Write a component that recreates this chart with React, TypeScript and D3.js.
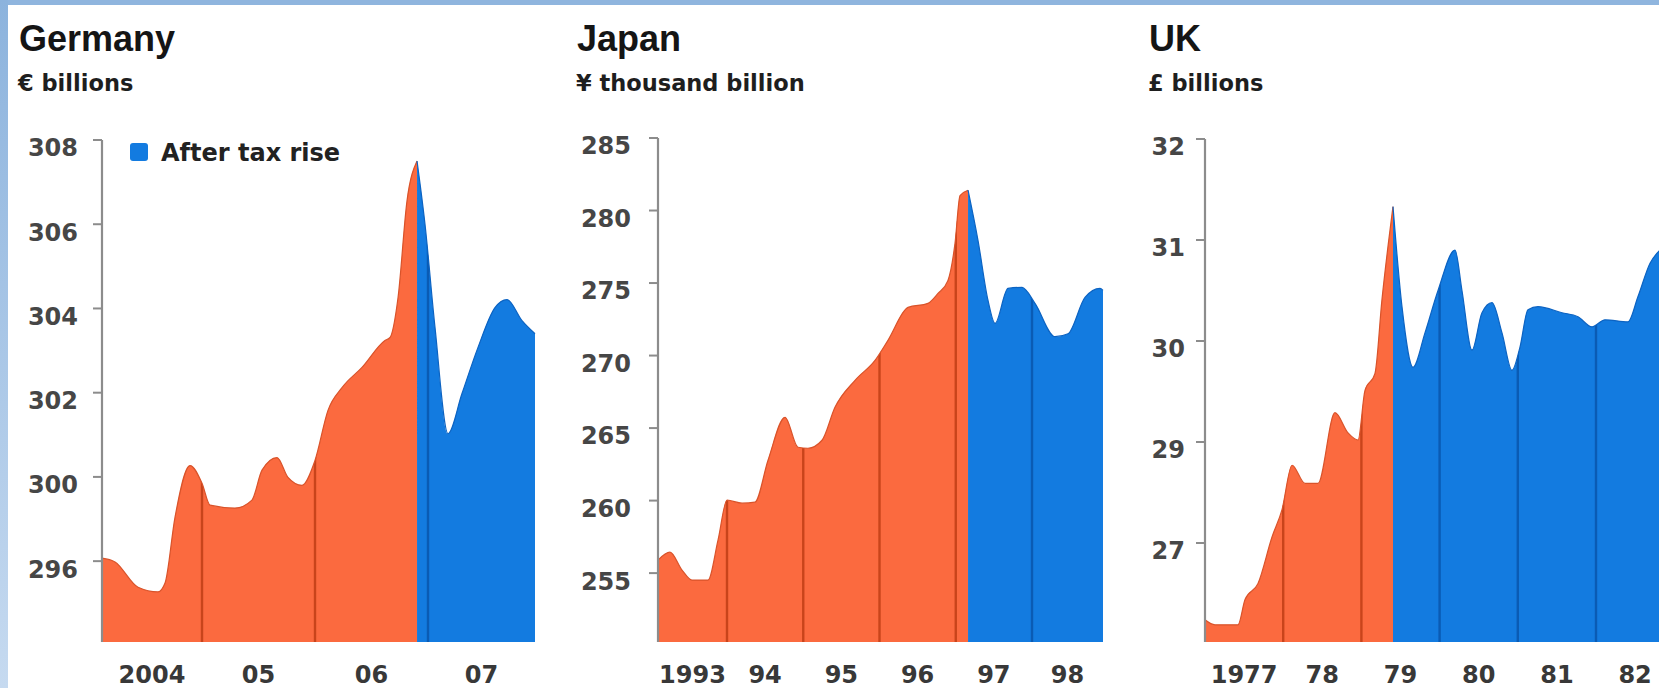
import React from "react";
import * as d3 from "d3";

type Pt = [number, number];

// ---------------- Germany (€ billions) ----------------
const GERMANY_BEFORE: Pt[] = [
  [2004.115, 298.07], [2004.23, 297.98], [2004.434, 297.38], [2004.611, 297.27], [2004.673, 297.48],
  [2004.761, 299.04], [2004.894, 300.27], [2005.0, 299.85], [2005.071, 299.33], [2005.292, 299.26],
  [2005.442, 299.45], [2005.531, 300.16], [2005.664, 300.46], [2005.761, 299.99], [2005.885, 299.8],
  [2006.0, 300.39], [2006.115, 301.58], [2006.239, 302.12], [2006.416, 302.6], [2006.619, 303.24],
  [2006.664, 303.31], [2006.735, 304.26], [2006.814, 306.55], [2006.903, 307.5],
];
const GERMANY_AFTER: Pt[] = [
  [2006.903, 307.5], [2006.973, 306.01], [2007.062, 303.55], [2007.177, 301.03], [2007.301, 301.98],
  [2007.442, 303.07], [2007.593, 304.02], [2007.699, 304.21], [2007.832, 303.71], [2007.947, 303.4],
];
const GERMANY_Y_TICKS = [298, 300, 302, 304, 306, 308];
const GERMANY_Y_LABELS = ["296", "300", "302", "304", "306", "308"];
const GERMANY_YEARS = [2004, 2005, 2006, 2007];
const GERMANY_X_LABELS = ["2004", "05", "06", "07"];

// ---------------- Japan (¥ thousand billion) ----------------
const JAPAN_BEFORE: Pt[] = [
  [1993.095, 255.9], [1993.252, 256.44], [1993.41, 255.21], [1993.541, 254.52], [1993.751, 254.52],
  [1993.882, 257.27], [1994.0, 260.03], [1994.197, 259.82], [1994.367, 259.89], [1994.538, 262.78],
  [1994.761, 265.74], [1994.931, 263.68], [1995.062, 263.61], [1995.246, 264.16], [1995.416, 266.43],
  [1995.679, 268.29], [1995.941, 269.67], [1996.111, 271.05], [1996.374, 273.32], [1996.636, 273.6],
  [1996.767, 274.28], [1996.898, 275.18], [1996.99, 277.73], [1997.056, 281.03], [1997.161, 281.4],
];
const JAPAN_AFTER: Pt[] = [
  [1997.161, 281.4], [1997.292, 277.93], [1997.423, 273.8], [1997.515, 272.22], [1997.685, 274.63],
  [1997.869, 274.7], [1998.039, 273.6], [1998.302, 271.3], [1998.472, 271.5], [1998.695, 274.01],
  [1998.892, 274.63], [1998.931, 274.49],
];
const JAPAN_Y_TICKS = [255, 260, 265, 270, 275, 280, 285];
const JAPAN_Y_LABELS = ["255", "260", "265", "270", "275", "280", "285"];
const JAPAN_YEARS = [1993, 1994, 1995, 1996, 1997, 1998];
const JAPAN_X_LABELS = ["1993", "94", "95", "96", "97", "98"];

// ---------------- UK (£ billions) ----------------
const UK_BEFORE: Pt[] = [
  [1977.0, 27.24], [1977.128, 27.19], [1977.422, 27.19], [1977.512, 27.44], [1977.678, 27.6],
  [1977.857, 28.06], [1977.985, 28.33], [1978.113, 28.77], [1978.279, 28.59], [1978.445, 28.59],
  [1978.662, 29.29], [1978.829, 29.09], [1978.957, 29.02], [1979.046, 29.51], [1979.174, 29.68],
  [1979.263, 30.41], [1979.404, 31.33],
];
const UK_AFTER: Pt[] = [
  [1979.404, 31.33], [1979.519, 30.34], [1979.66, 29.74], [1979.813, 30.08], [1979.98, 30.5],
  [1980.197, 30.9], [1980.286, 30.5], [1980.414, 29.91], [1980.542, 30.28], [1980.67, 30.38],
  [1980.798, 30.08], [1980.926, 29.71], [1981.028, 29.94], [1981.13, 30.31], [1981.258, 30.34],
  [1981.565, 30.28], [1981.77, 30.24], [1981.949, 30.14], [1982.115, 30.21], [1982.409, 30.19],
  [1982.537, 30.44], [1982.691, 30.77], [1982.82, 30.9],
];
const UK_Y_TICKS = [28, 29, 30, 31, 32];
const UK_Y_LABELS = ["27", "29", "30", "31", "32"];
const UK_YEARS = [1977, 1978, 1979, 1980, 1981, 1982];
const UK_X_LABELS = ["1977", "78", "79", "80", "81", "82"];

const LEGEND_LABEL = "After tax rise";

// ---------------- layout / style ----------------
const W = 1659;
const H = 688;
const BASE_Y = 642;
const ORANGE = "#fb6a3f";
const ORANGE_DARK = "#c8441b";
const BLUE = "#137be0";
const BLUE_DARK = "#0a5bb4";
const SMALL_FONT = "'DejaVu Sans', Verdana, sans-serif";
const TITLE_FONT = "'Liberation Sans', Arial, sans-serif";

interface PanelCfg {
  id: string;
  title: string;
  subtitle: string;
  titleX: number;
  left: number;
  right: number;
  xDomain: [number, number];
  yDomain: [number, number];
  topY: number;
  before: Pt[];
  after: Pt[];
  yTicks: number[];
  yLabels: string[];
  years: number[];
  xLabels: string[];
  labelGap: number;
  legend?: boolean;
}

const PANELS: PanelCfg[] = [
  {
    id: "de", title: "Germany", subtitle: "€ billions", titleX: 19,
    left: 102, right: 535, xDomain: [2004.115, 2007.947], yDomain: [296.08, 308], topY: 140,
    before: GERMANY_BEFORE, after: GERMANY_AFTER, yTicks: GERMANY_Y_TICKS, yLabels: GERMANY_Y_LABELS,
    years: GERMANY_YEARS, xLabels: GERMANY_X_LABELS, labelGap: 24, legend: true,
  },
  {
    id: "jp", title: "Japan", subtitle: "¥ thousand billion", titleX: 577,
    left: 658, right: 1103, xDomain: [1993.095, 1998.931], yDomain: [250.25, 285], topY: 138,
    before: JAPAN_BEFORE, after: JAPAN_AFTER, yTicks: JAPAN_Y_TICKS, yLabels: JAPAN_Y_LABELS,
    years: JAPAN_YEARS, xLabels: JAPAN_X_LABELS, labelGap: 27,
  },
  {
    id: "uk", title: "UK", subtitle: "£ billions", titleX: 1149,
    left: 1205, right: 1674.2, xDomain: [1977, 1983], yDomain: [27.02, 32], topY: 139,
    before: UK_BEFORE, after: UK_AFTER, yTicks: UK_Y_TICKS, yLabels: UK_Y_LABELS,
    years: UK_YEARS, xLabels: UK_X_LABELS, labelGap: 20,
  },
];

function Panel({ cfg }: { cfg: PanelCfg }) {
  const x = d3.scaleLinear().domain(cfg.xDomain).range([cfg.left, cfg.right]);
  const y = d3.scaleLinear().domain(cfg.yDomain).range([BASE_Y, cfg.topY]);
  const area = d3
    .area<Pt>()
    .x((d) => x(d[0]))
    .y0(BASE_Y)
    .y1((d) => y(d[1]))
    .curve(d3.curveMonotoneX);
  const line = d3
    .line<Pt>()
    .x((d) => x(d[0]))
    .y((d) => y(d[1]))
    .curve(d3.curveMonotoneX);
  const boundary = cfg.after[0][0];
  const [d0, d1] = cfg.xDomain;
  const clipId = `clip-${cfg.id}`;
  const topTick = y(d3.max(cfg.yTicks) as number);
  const dataEnd = cfg.after[cfg.after.length - 1][0];

  return (
    <g>
      <text x={cfg.titleX} y={51} fontFamily={TITLE_FONT} fontWeight="bold" fontSize={36} fill="#151515">
        {cfg.title}
      </text>
      <text x={cfg.titleX - 1} y={91} fontFamily={SMALL_FONT} fontWeight="bold" fontSize={22.5} fill="#1e1e1e">
        {cfg.subtitle}
      </text>

      <defs>
        <clipPath id={clipId}>
          <path d={area(cfg.before) || ""} />
          <path d={area(cfg.after) || ""} />
        </clipPath>
      </defs>

      <path d={area(cfg.before) || ""} fill={ORANGE} />
      <path d={area(cfg.after) || ""} fill={BLUE} />

      <g clipPath={`url(#${clipId})`}>
        {cfg.years
          .filter((yr) => yr > d0 && yr < dataEnd)
          .map((yr) => (
            <line
              key={yr}
              x1={x(yr)}
              x2={x(yr)}
              y1={cfg.topY - 10}
              y2={BASE_Y}
              stroke={yr < boundary ? ORANGE_DARK : BLUE_DARK}
              strokeWidth={2.4}
            />
          ))}
      </g>

      <path d={line(cfg.before) || ""} fill="none" stroke="#d9532a" strokeWidth={1.2} />
      <path d={line(cfg.after) || ""} fill="none" stroke="#0c63c2" strokeWidth={1.2} />

      {/* y axis */}
      <line x1={cfg.left} x2={cfg.left} y1={topTick} y2={BASE_Y} stroke="#8c8c8c" strokeWidth={2.2} />
      {cfg.yTicks.map((t, i) => (
        <g key={t}>
          <line x1={cfg.left - 9} x2={cfg.left} y1={y(t)} y2={y(t)} stroke="#8c8c8c" strokeWidth={2} />
          <text
            x={cfg.left - cfg.labelGap}
            y={y(t) + 8}
            dy="0.35em"
            textAnchor="end"
            fontFamily={SMALL_FONT}
            fontWeight="bold"
            fontSize={24}
            fill="#464646"
          >
            {cfg.yLabels[i]}
          </text>
        </g>
      ))}

      {/* x labels centred on the visible part of each year */}
      {cfg.years.map((yr, i) => {
        const a = Math.max(yr, d0);
        const b = Math.min(yr + 1, d1);
        return (
          <text
            key={yr}
            x={x((a + b) / 2)}
            y={683}
            textAnchor="middle"
            fontFamily={SMALL_FONT}
            fontWeight="bold"
            fontSize={24}
            fill="#383838"
          >
            {cfg.xLabels[i]}
          </text>
        );
      })}

      {cfg.legend && (
        <g>
          <rect x={130} y={143} width={18} height={18} rx={3} fill={BLUE} />
          <text x={161} y={161} fontFamily={SMALL_FONT} fontWeight="bold" fontSize={24} fill="#222">
            {LEGEND_LABEL}
          </text>
        </g>
      )}
    </g>
  );
}

export default function App() {
  return (
    <div style={{ position: "absolute", left: 0, top: 0, width: W, height: H, overflow: "hidden" }}>
      <svg width={W} height={H} viewBox={`0 0 ${W} ${H}`} style={{ display: "block" }}>
        <defs>
          <linearGradient id="leftEdge" x1="0" y1="0" x2="0" y2="1">
            <stop offset="0%" stopColor="#8cb3dd" />
            <stop offset="100%" stopColor="#c6daf0" />
          </linearGradient>
        </defs>
        <rect x={0} y={0} width={W} height={H} fill="#ffffff" />
        <rect x={0} y={0} width={W} height={5} fill="#8fb5de" />
        <rect x={0} y={0} width={8} height={H} fill="url(#leftEdge)" />
        {PANELS.map((p) => (
          <Panel key={p.id} cfg={p} />
        ))}
      </svg>
    </div>
  );
}
